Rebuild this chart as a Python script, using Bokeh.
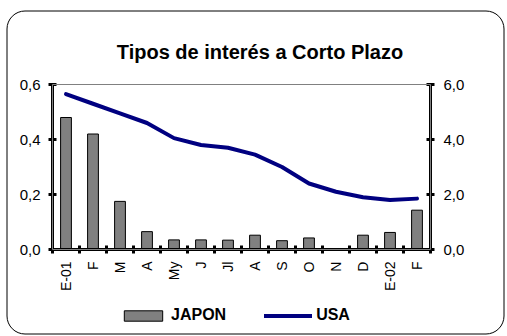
import math
from bokeh.plotting import figure
from bokeh.models import (Range1d, LinearAxis, FixedTicker, CustomJSTickFormatter,
                          Legend, LegendItem, BoxAnnotation, Label, ColumnDataSource)
from bokeh.embed import file_html
from bokeh.resources import INLINE

# Monthly short-term interest rates, Jan 2001 - Feb 2002
months = ["E-01", "F", "M", "A", "My", "J", "Jl", "A", "S", "O", "N", "D", "E-02", "F"]
japon = [0.48, 0.42, 0.175, 0.065, 0.035, 0.035, 0.034, 0.052, 0.032, 0.042, 0.0, 0.052, 0.062, 0.143]
usa = [5.65, 5.30, 4.95, 4.60, 4.05, 3.80, 3.70, 3.45, 3.00, 2.40, 2.10, 1.90, 1.80, 1.85]

left_ticks = [0.0, 0.2, 0.4, 0.6]
right_ticks = [0.0, 2.0, 4.0, 6.0]
LEFT_MAX, RIGHT_MAX = 0.6, 6.0

FONT = "Liberation Sans"

# page layout (pixels): canvas size and the plot area inside it
W, H = 507, 336
PL, PR, PT, PB = 52, 430, 84, 249
n = len(months)
cat_px = (PR - PL) / n
x_lo = -0.5 - PL / cat_px
x_hi = n - 0.5 + (W - PR) / cat_px
ypp = LEFT_MAX / (PB - PT)
y_lo = -(H - PB) * ypp
y_hi = LEFT_MAX + PT * ypp
scale = RIGHT_MAX / LEFT_MAX

idx = list(range(n))
src = ColumnDataSource(dict(x=idx, japon=japon, usa=usa))

p = figure(width=W, height=H, output_backend="svg", toolbar_location=None, title=None,
           x_range=Range1d(x_lo, x_hi), y_range=Range1d(y_lo, y_hi),
           min_border=0, x_axis_location=None, y_axis_location=None)
p.extra_y_ranges = {"usa": Range1d(y_lo * scale, y_hi * scale), "px": Range1d(H, 0)}
p.extra_x_ranges = {"px": Range1d(0, W)}
p.xgrid.visible = False
p.ygrid.visible = False
p.outline_line_color = None
p.background_fill_color = "white"

comma = CustomJSTickFormatter(code="return tick.toFixed(1).replace('.', ',');")

def style_axis(ax, size):
    ax.axis_line_width = 3
    ax.axis_line_color = "black"
    ax.major_tick_line_width = 3
    ax.major_tick_in = 4
    ax.major_tick_out = 4
    ax.minor_tick_line_color = None
    ax.major_label_text_font = FONT
    ax.major_label_text_font_size = size
    ax.major_label_text_color = "black"

# plot-area border (only its top edge stays visible between the axes)
p.add_layout(BoxAnnotation(left=-0.5, right=n - 0.5, bottom=0, top=LEFT_MAX,
                           fill_alpha=0, line_color="#808080", line_alpha=1, line_width=1))

bars = p.vbar(x="x", top="japon", width=0.4, source=src,
              fill_color="#808080", line_color="black", line_width=1)
line = p.line(x="x", y="usa", source=src, y_range_name="usa",
              line_color="#000080", line_width=4, line_join="round", line_cap="round")

yl = LinearAxis(ticker=FixedTicker(ticks=left_ticks), formatter=comma,
                fixed_location=-0.5, bounds=(0, LEFT_MAX))
style_axis(yl, "15px")
yl.major_label_standoff = 8
p.add_layout(yl, "left")

yr = LinearAxis(y_range_name="usa", ticker=FixedTicker(ticks=right_ticks), formatter=comma,
                fixed_location=n - 0.5, bounds=(0, RIGHT_MAX))
style_axis(yr, "15px")
yr.major_label_standoff = 9
p.add_layout(yr, "right")

xa = LinearAxis(ticker=FixedTicker(ticks=idx, minor_ticks=[i - 0.5 for i in range(n + 1)]),
                major_label_overrides={i: m for i, m in enumerate(months)},
                fixed_location=0, bounds=(-0.5, n - 0.5))
style_axis(xa, "14px")
xa.major_tick_line_color = None
xa.minor_tick_line_color = "black"
xa.minor_tick_line_width = 3
xa.minor_tick_in = 4
xa.minor_tick_out = 4
xa.major_label_orientation = math.pi / 2
xa.major_label_standoff = 8
p.add_layout(xa, "below")

p.add_layout(Label(x=259.5, y=51, x_range_name="px", y_range_name="px",
                   text="Tipos de interés a Corto Plazo", text_align="center",
                   text_baseline="alphabetic", text_font=FONT, text_font_size="20px",
                   text_font_style="bold", text_color="black"))

legend = Legend(items=[LegendItem(label="JAPON", renderers=[bars]),
                       LegendItem(label="USA", renderers=[line])],
                orientation="horizontal", location=(119, 12),
                label_text_font=FONT, label_text_font_size="16px", label_text_font_style="bold",
                label_text_color="black", label_height=16,
                glyph_width=48, glyph_height=13, spacing=38, label_standoff=4,
                padding=0, margin=0,
                border_line_color=None, background_fill_alpha=0)
p.add_layout(legend)

# rounded chart border
p.add_layout(BoxAnnotation(left=6.5, right=503.5, top=10.5, bottom=333.5,
                           x_range_name="px", y_range_name="px",
                           fill_alpha=0, line_color="black", line_alpha=1, line_width=1,
                           border_radius=18))

open("out.html", "w").write(file_html(p, INLINE))
